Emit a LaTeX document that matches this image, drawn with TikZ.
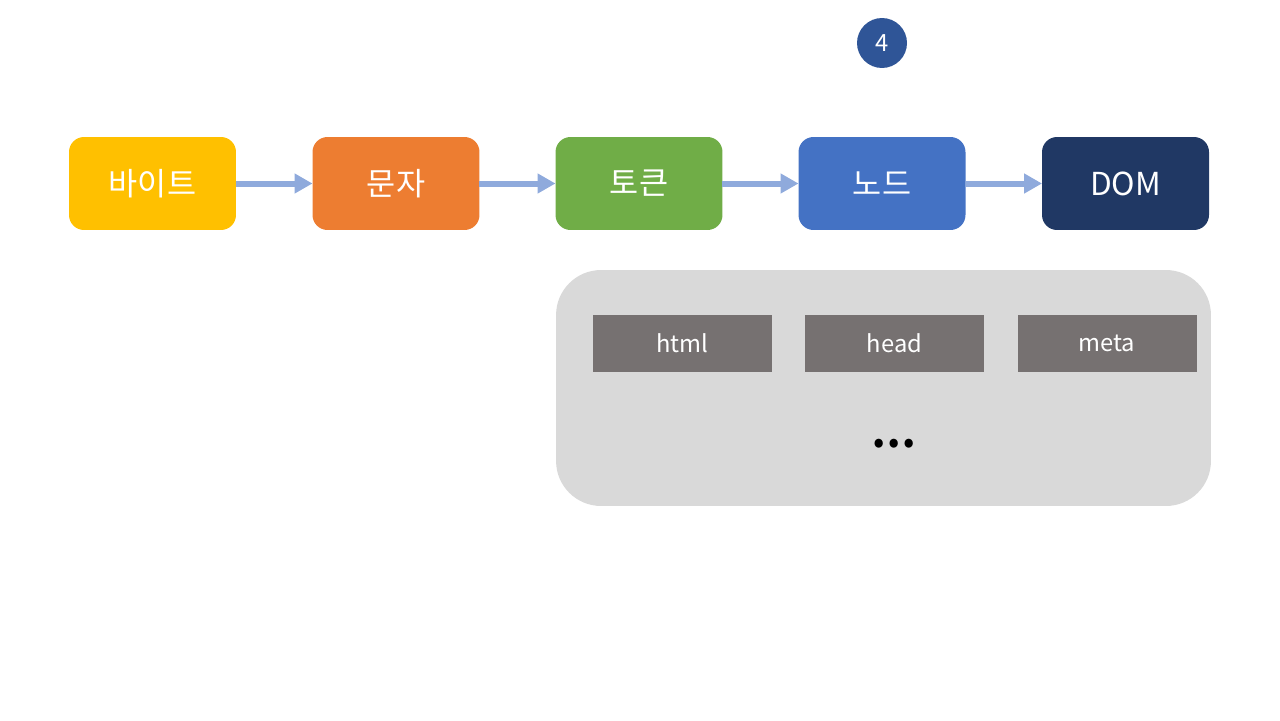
\documentclass[tikz,border=0pt]{standalone}
\usepackage{fontspec}
\setmainfont{Noto Sans CJK KR}
\usetikzlibrary{positioning,arrows.meta}

\definecolor{byteyellow}{HTML}{FFC000}
\definecolor{charorange}{HTML}{ED7D31}
\definecolor{tokengreen}{HTML}{70AD47}
\definecolor{nodeblue}{HTML}{4472C4}
\definecolor{domnavy}{HTML}{203864}
\definecolor{stepblue}{HTML}{2F5597}
\definecolor{flowblue}{HTML}{8FAADC}
\definecolor{panelgray}{HTML}{D9D9D9}
\definecolor{taggray}{HTML}{767171}

\begin{document}
\begin{tikzpicture}[x=0.02cm, y=-0.02cm,
    every node/.style={font=\fontsize{18}{22}\selectfont, text=white, outer sep=0pt},
    stage/.style={rounded corners=0.3cm, minimum width=3.34cm, minimum height=1.86cm, inner sep=0pt},
    flow/.style={-{Triangle[length=0.36cm, width=0.38cm]}, line width=0.12cm, flowblue},
    tag/.style={fill=taggray, minimum width=3.58cm, minimum height=1.14cm, inner sep=0pt, font=\fontsize{13.5}{16}\selectfont}]
    \useasboundingbox (0,0) rectangle (1280,720);

    % pipeline stages
    \node[stage, fill=byteyellow] (byte) at (152.5,183.5) {바이트};
    \node[stage, fill=charorange] (char) at (396,183.5) {문자};
    \node[stage, fill=tokengreen] (token) at (639,183.5) {토큰};
    \node[stage, fill=nodeblue] (tnode) at (882,183.5) {노드};
    \node[stage, fill=domnavy] (dom) at (1125.5,183.5) {DOM};

    \draw[flow] (byte) -- (char);
    \draw[flow] (char) -- (token);
    \draw[flow] (token) -- (tnode);
    \draw[flow] (tnode) -- (dom);

    % step number
    \node[circle, fill=stepblue, minimum size=1cm, inner sep=0pt, font=\fontsize{13.5}{16}\selectfont] (num) at (882,43) {4};

    % node examples
    \node[fill=panelgray, rounded corners=0.9cm, minimum width=13.1cm, minimum height=4.72cm] (panel) at (883.5,388) {};
    \node[tag] (html) at (682.5,343) {html};
    \node[tag] (head) at (894.5,343) {head};
    \node[tag] (meta) at (1107,343) {meta};
    \node[text=black, font=\fontsize{19}{22}\selectfont] (more) at (894,446) {•\hspace{0.07cm}•\hspace{0.07cm}•};
\end{tikzpicture}
\end{document}
